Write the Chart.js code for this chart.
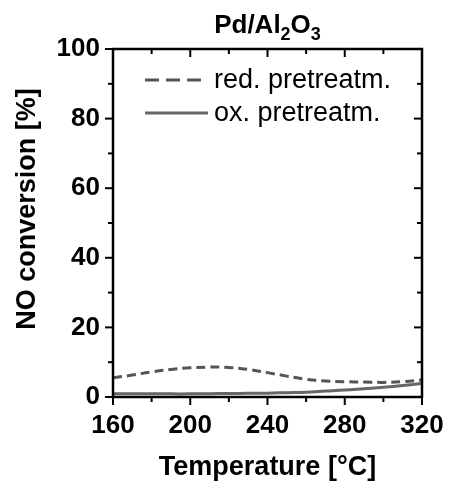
<!DOCTYPE html>
<html>
<head>
<meta charset="utf-8">
<script src="https://cdn.jsdelivr.net/npm/chart.js@4"></script>
<style>
  html, body { margin: 0; padding: 0; background: #fff; }
  #wrap { width: 449px; height: 485px; position: relative; }
</style>
</head>
<body>
<div id="wrap"><canvas id="chart"></canvas></div>
<script>
// values
const temps = [160, 170, 180, 190, 200, 210, 220, 230, 240, 250, 260, 270, 280, 290, 300, 310, 320];
const redConv = [5.5, 6.3, 7.2, 7.9, 8.4, 8.6, 8.5, 7.9, 7.0, 6.0, 5.1, 4.6, 4.4, 4.3, 4.2, 4.4, 4.9];
const oxConv = [0.9, 0.9, 0.9, 0.9, 0.9, 0.95, 1.0, 1.05, 1.1, 1.25, 1.4, 1.7, 2.0, 2.4, 2.8, 3.3, 3.9];
const seriesLabels = ['red. pretreatm.', 'ox. pretreatm.'];
const xMajor = [160, 200, 240, 280, 320];
const xMinor = [180, 220, 260, 300];
const yMajor = [0, 20, 40, 60, 80, 100];
const yMinor = [10, 30, 50, 70, 90];

const FONT = "'Liberation Sans', Arial, sans-serif";

const framePlugin = {
    id: 'frame',
    afterDraw(chart) {
        const ctx = chart.ctx;
        const a = chart.chartArea;
        const xs = chart.scales.x, ys = chart.scales.y;
        ctx.save();
        ctx.strokeStyle = '#000';
        ctx.lineWidth = 2;
        // ticks: outward on left/bottom, inward on top/right
        const tick = (x1, y1, x2, y2) => { ctx.beginPath(); ctx.moveTo(x1, y1); ctx.lineTo(x2, y2); ctx.stroke(); };
        xMajor.forEach(v => { const p = xs.getPixelForValue(v); tick(p, a.bottom, p, a.bottom + 8); tick(p, a.top, p, a.top + 8); });
        xMinor.forEach(v => { const p = xs.getPixelForValue(v); tick(p, a.bottom, p, a.bottom + 5); tick(p, a.top, p, a.top + 5); });
        yMajor.forEach(v => { const p = ys.getPixelForValue(v); tick(a.left - 8, p, a.left, p); tick(a.right - 8, p, a.right, p); });
        yMinor.forEach(v => { const p = ys.getPixelForValue(v); tick(a.left - 5, p, a.left, p); tick(a.right - 5, p, a.right, p); });
        ctx.lineWidth = 2.5;
        ctx.strokeRect(a.left, a.top, a.right - a.left, a.bottom - a.top);

        // title with subscripts
        ctx.fillStyle = '#000';
        ctx.textBaseline = 'alphabetic';
        const parts = [['Pd/Al', 0], ['2', 1], ['O', 0], ['3', 1]];
        const big = 'bold 26px ' + FONT, small = 'bold 18px ' + FONT;
        let w = 0;
        parts.forEach(([t, s]) => { ctx.font = s ? small : big; w += ctx.measureText(t).width; });
        let x = (a.left + a.right) / 2 - w / 2;
        parts.forEach(([t, s]) => {
            ctx.font = s ? small : big;
            ctx.fillText(t, x, s ? 40 : 33);
            x += ctx.measureText(t).width;
        });

        // axis titles
        ctx.font = 'bold 27px ' + FONT;
        ctx.textAlign = 'center';
        ctx.textBaseline = 'middle';
        ctx.fillText('Temperature [°C]', (a.left + a.right) / 2, 468);
        ctx.save();
        ctx.translate(28, 209);
        ctx.rotate(-Math.PI / 2);
        ctx.fillText('NO conversion [%]', 0, 0);
        ctx.restore();

        // legend
        ctx.font = '27px ' + FONT;
        ctx.textAlign = 'left';
        const rows = [80, 113];
        chart.data.datasets.forEach((ds, i) => {
            ctx.strokeStyle = ds.borderColor;
            ctx.lineWidth = ds.borderWidth;
            ctx.setLineDash(ds.borderDash.length ? [14, 7] : []);
            tick(145, rows[i], 208, rows[i]);
            ctx.setLineDash([]);
            ctx.fillStyle = '#000';
            ctx.fillText(ds.label, 214, rows[i] + 1);
        });
        ctx.restore();
    }
};

const ctx = document.getElementById('chart').getContext('2d');
new Chart(ctx, {
    type: 'line',
    data: {
        datasets: [
            {
                label: seriesLabels[0],
                data: temps.map((t, i) => ({ x: t, y: redConv[i] })),
                borderColor: '#555555',
                borderWidth: 3,
                borderDash: [9, 5],
                pointRadius: 0,
                tension: 0.4,
                fill: false
            },
            {
                label: seriesLabels[1],
                data: temps.map((t, i) => ({ x: t, y: oxConv[i] })),
                borderColor: '#666666',
                borderWidth: 3,
                borderDash: [],
                pointRadius: 0,
                tension: 0.4,
                fill: false
            }
        ]
    },
    options: {
        responsive: true,
        maintainAspectRatio: false,
        animation: false,
        layout: { padding: { left: 0, right: 27, top: 49, bottom: 0 } },
        plugins: { legend: { display: false }, title: { display: false }, tooltip: { enabled: false } },
        scales: {
            x: {
                type: 'linear',
                min: 160, max: 320,
                afterFit: s => { s.height = 88; s.paddingLeft = 0; s.paddingRight = 0; },
                afterBuildTicks: s => { s.ticks = xMajor.map(v => ({ value: v })); },
                grid: { display: false, drawTicks: false, tickLength: 0 },
                border: { display: false },
                ticks: { color: '#000', font: { family: FONT, size: 26, weight: 'bold' }, padding: 13, maxRotation: 0 }
            },
            y: {
                min: 0, max: 100,
                afterFit: s => { s.width = 113; s.paddingTop = 0; s.paddingBottom = 0; },
                afterBuildTicks: s => { s.ticks = yMajor.map(v => ({ value: v })); },
                grid: { display: false, drawTicks: false, tickLength: 0 },
                border: { display: false },
                ticks: { color: '#000', font: { family: FONT, size: 26, weight: 'bold' }, padding: 13 }
            }
        }
    },
    plugins: [framePlugin]
});
</script>
</body>
</html>
